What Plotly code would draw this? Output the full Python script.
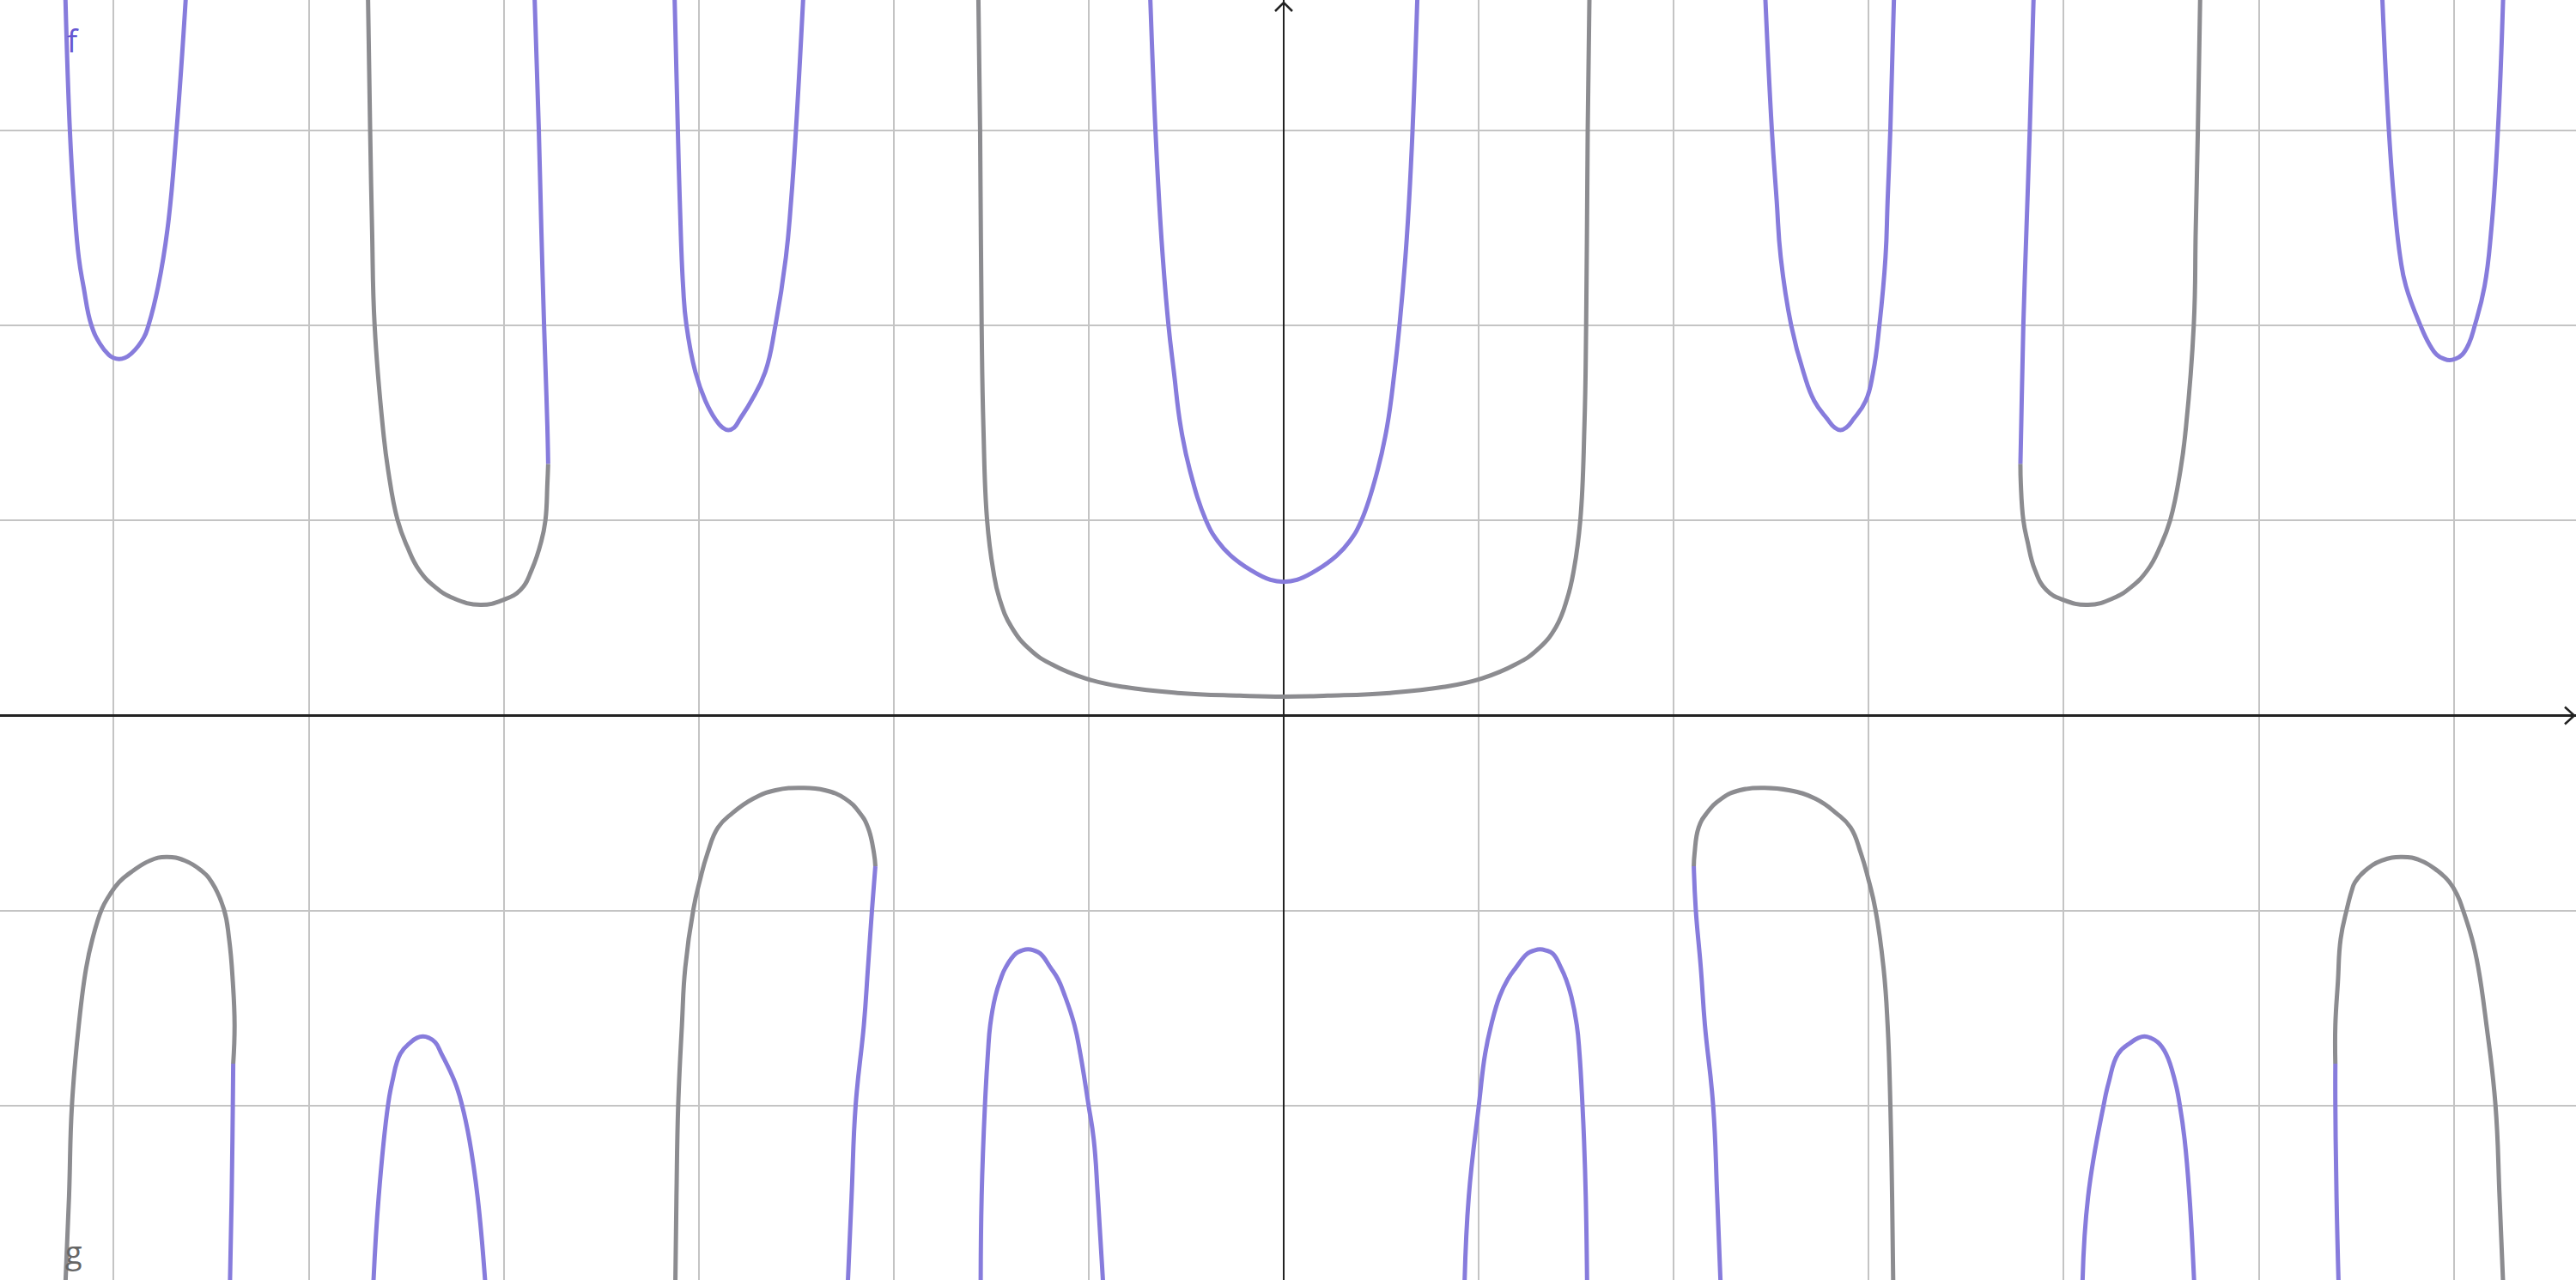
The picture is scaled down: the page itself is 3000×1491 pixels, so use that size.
import plotly.graph_objects as go

# ---------------- data (x, y in grid units) ----------------
# g : gray curve, central branch
g_c_x = [-1.566, -1.557, -1.549, -1.540, -1.521, -1.490, -1.458, -1.396, -1.300, -1.190, -1.015, -0.817, -0.545, -0.226, 0.0,
         0.226, 0.545, 0.817, 1.015, 1.190, 1.300, 1.396, 1.454, 1.488, 1.521, 1.542, 1.551, 1.559, 1.568]
g_c_y = [3.70, 3.008, 2.004, 1.481, 1.002, 0.748, 0.601, 0.454, 0.337, 0.263, 0.190, 0.146, 0.116, 0.102, 0.097,
         0.102, 0.116, 0.146, 0.190, 0.263, 0.337, 0.454, 0.601, 0.748, 1.002, 1.481, 2.004, 3.008, 3.70]
# g : upper-left branch (pole -> minimum -> join with f)
g_ul_x = [-4.696, -4.685, -4.675, -4.662, -4.620, -4.593, -4.544, -4.494, -4.435, -4.351, -4.256, -4.119, -4.003, -3.913,
          -3.856, -3.807, -3.786, -3.776, -3.772]
g_ul_y = [3.70, 3.008, 2.496, 2.004, 1.481, 1.261, 1.002, 0.865, 0.748, 0.659, 0.601, 0.568, 0.593, 0.645,
          0.748, 0.894, 1.002, 1.188, 1.291]
# g : upper-right branch
g_ur_x = [3.778, 3.780, 3.793, 3.814, 3.852, 3.910, 3.999, 4.125, 4.252, 4.346, 4.431, 4.494, 4.546, 4.599,
          4.627, 4.667, 4.677, 4.688, 4.700]
g_ur_y = [1.291, 1.188, 1.002, 0.894, 0.748, 0.645, 0.593, 0.568, 0.601, 0.659, 0.748, 0.865, 1.002, 1.261,
          1.481, 2.004, 2.496, 3.008, 3.70]
# g : lower far-left branch (pole -> maximum -> join with f)
g_lfl_x = [-6.248, -6.229, -6.214, -6.179, -6.141, -6.109, -6.061, -6.025, -5.972, -5.899, -5.814, -5.730, -5.635,
           -5.551, -5.498, -5.435, -5.408, -5.389, -5.380, -5.387]
g_lfl_y = [-2.93, -2.468, -1.997, -1.588, -1.294, -1.147, -0.993, -0.927, -0.854, -0.795, -0.744, -0.725, -0.744,
           -0.795, -0.854, -0.993, -1.147, -1.367, -1.588, -1.786]
# g : lower far-right branch
g_lfr_x = [5.393, 5.393, 5.406, 5.420, 5.452, 5.477, 5.494, 5.547, 5.631, 5.736, 5.831, 5.915, 5.978, 6.021,
           6.046, 6.094, 6.126, 6.168, 6.214, 6.235, 6.254]
g_lfr_y = [-1.786, -1.588, -1.367, -1.147, -0.993, -0.898, -0.854, -0.795, -0.744, -0.725, -0.744, -0.795, -0.854, -0.927,
           -0.993, -1.147, -1.294, -1.588, -1.997, -2.468, -2.93]
# g : lower mid-left branch
g_lml_x = [-3.120, -3.114, -3.105, -3.086, -3.069, -3.027, -2.996, -2.955, -2.901, -2.827, -2.722, -2.606, -2.469,
           -2.353, -2.248, -2.174, -2.132, -2.101, -2.094]
g_lml_y = [-2.93, -2.468, -1.997, -1.588, -1.294, -0.993, -0.854, -0.707, -0.574, -0.500, -0.427, -0.383, -0.371,
           -0.383, -0.427, -0.500, -0.574, -0.707, -0.773]
# g : lower mid-right branch
g_lmr_x = [2.103, 2.107, 2.128, 2.170, 2.244, 2.339, 2.465, 2.591, 2.728, 2.833, 2.907, 2.960, 3.002, 3.034,
           3.076, 3.097, 3.111, 3.120, 3.126]
g_lmr_y = [-0.773, -0.707, -0.574, -0.500, -0.427, -0.383, -0.371, -0.383, -0.427, -0.500, -0.574, -0.707, -0.854, -0.993,
           -1.294, -1.588, -1.997, -2.468, -2.93]

# f : purple curve, central branch
f_c_x = [-0.685, -0.658, -0.639, -0.620, -0.591, -0.563, -0.528, -0.482, -0.399, -0.338, -0.272, -0.172, -0.068, 0.0,
         0.068, 0.172, 0.272, 0.338, 0.399, 0.482, 0.530, 0.568, 0.594, 0.624, 0.643, 0.661, 0.686]
f_c_y = [3.70, 3.008, 2.642, 2.349, 2.004, 1.762, 1.481, 1.261, 1.002, 0.894, 0.821, 0.748, 0.696, 0.686,
         0.696, 0.748, 0.821, 0.894, 1.002, 1.261, 1.481, 1.762, 2.004, 2.349, 2.642, 3.008, 3.70]
# f : upper U left of the y-axis (around x = -2.85)
f_ul_x = [-3.124, -3.107, -3.097, -3.080, -3.063, -3.017, -2.966, -2.916, -2.878, -2.848, -2.818, -2.788, -2.730,
          -2.659, -2.606, -2.553, -2.526, -2.501, -2.463]
f_ul_y = [3.70, 3.008, 2.642, 2.202, 2.004, 1.762, 1.615, 1.522, 1.477, 1.464, 1.477, 1.522, 1.615,
          1.762, 2.004, 2.349, 2.642, 3.008, 3.70]
# f : upper U right of the y-axis (around x = 2.85)
f_ur_x = [2.469, 2.503, 2.528, 2.549, 2.602, 2.665, 2.720, 2.787, 2.825, 2.855, 2.885, 2.923, 2.985, 3.023, 3.055,
          3.086, 3.097, 3.111, 3.130]
f_ur_y = [3.70, 3.008, 2.642, 2.349, 2.004, 1.762, 1.615, 1.522, 1.477, 1.464, 1.477, 1.522, 1.615, 1.762, 2.004,
          2.349, 2.642, 3.008, 3.70]
# f : far-left upper U (around x = -5.97)
f_ufl_x = [-6.248, -6.225, -6.204, -6.179, -6.155, -6.115, -6.071, -6.025, -6.002, -5.972, -5.942, -5.909, -5.846,
           -5.821, -5.772, -5.724, -5.677, -5.629]
f_ufl_y = [3.70, 3.008, 2.642, 2.349, 2.202, 2.004, 1.908, 1.850, 1.835, 1.828, 1.835, 1.857, 1.938,
           2.004, 2.202, 2.496, 3.008, 3.70]
# f : far-right upper U (around x = 5.98)
f_ufr_x = [5.633, 5.667, 5.694, 5.726, 5.755, 5.828, 5.873, 5.914, 5.949, 5.979, 6.009, 6.042, 6.078, 6.109, 6.158,
           6.193, 6.227, 6.254]
f_ufr_y = [3.70, 3.008, 2.642, 2.349, 2.202, 2.004, 1.908, 1.850, 1.830, 1.823, 1.830, 1.850, 1.908, 2.004, 2.202,
           2.496, 3.008, 3.70]
# f : short pieces rising from the upper joins
f_jul_x = [-3.772, -3.776, -3.793, -3.807, -3.820, -3.842]
f_jul_y = [1.291, 1.481, 2.004, 2.496, 3.008, 3.70]
f_jur_x = [3.778, 3.782, 3.793, 3.809, 3.826, 3.846]
f_jur_y = [1.291, 1.481, 2.004, 2.496, 3.008, 3.70]
# f : short pieces falling from the lower joins
f_jlfl_x = [-5.387, -5.389, -5.395, -5.404]
f_jlfl_y = [-1.786, -1.997, -2.468, -2.93]
f_jlfr_x = [5.393, 5.393, 5.399, 5.410]
f_jlfr_y = [-1.786, -1.997, -2.468, -2.93]
f_jlml_x = [-2.094, -2.111, -2.132, -2.153, -2.195, -2.216, -2.236]
f_jlml_y = [-0.773, -0.993, -1.294, -1.588, -1.997, -2.468, -2.93]
f_jlmr_x = [2.103, 2.113, 2.139, 2.160, 2.202, 2.223, 2.241]
f_jlmr_y = [-0.773, -0.993, -1.294, -1.588, -1.997, -2.468, -2.93]
# f : lower humps
f_hfl_x = [-4.669, -4.641, -4.593, -4.572, -4.530, -4.477, -4.444, -4.414, -4.384, -4.351, -4.319, -4.250, -4.214,
           -4.176, -4.134, -4.093]
f_hfl_y = [-2.93, -2.468, -1.997, -1.881, -1.735, -1.676, -1.653, -1.646, -1.653, -1.676, -1.735, -1.881, -1.997,
           -2.175, -2.468, -2.93]
f_hfr_x = [4.096, 4.125, 4.205, 4.231, 4.279, 4.346, 4.384, 4.414, 4.444, 4.483, 4.525, 4.572, 4.595, 4.620, 4.645,
           4.670]
f_hfr_y = [-2.93, -2.468, -1.997, -1.881, -1.735, -1.676, -1.653, -1.646, -1.653, -1.676, -1.735, -1.881, -1.997,
           -2.175, -2.468, -2.93]
f_hml_x = [-1.554, -1.549, -1.532, -1.517, -1.505, -1.479, -1.452, -1.427, -1.374, -1.341, -1.311, -1.281, -1.248,
           -1.195, -1.157, -1.121, -1.073, -1.043, -1.001, -0.974, -0.953, -0.925]
f_hml_y = [-2.93, -2.468, -1.997, -1.735, -1.588, -1.441, -1.353, -1.294, -1.221, -1.205, -1.199, -1.205, -1.221,
           -1.294, -1.353, -1.441, -1.588, -1.735, -1.997, -2.175, -2.468, -2.93]
f_hmr_x = [0.927, 0.949, 1.001, 1.033, 1.064, 1.107, 1.149, 1.190, 1.250, 1.285, 1.315, 1.345, 1.380, 1.422, 1.448,
           1.475, 1.503, 1.517, 1.532, 1.540, 1.549, 1.556]
f_hmr_y = [-2.93, -2.468, -1.997, -1.735, -1.588, -1.441, -1.353, -1.294, -1.221, -1.205, -1.199, -1.205, -1.221,
           -1.294, -1.353, -1.441, -1.588, -1.735, -1.997, -2.175, -2.468, -2.93]

labels = ["f", "g"]

# ---------------- styling ----------------
PURPLE = "#877cdc"
GRAY = "#8c8c90"
W = 3000
H = 1491
UNIT = 227.1          # pixels per grid unit
X0_PX = 1495.0        # pixel column of the y-axis
Y0_PX = 833.5         # pixel row of the x-axis

x_range = [-X0_PX / UNIT, (W - X0_PX) / UNIT]
y_range = [-(H - Y0_PX) / UNIT, Y0_PX / UNIT]

g_branches = [(g_c_x, g_c_y), (g_ul_x, g_ul_y), (g_ur_x, g_ur_y), (g_lfl_x, g_lfl_y),
              (g_lfr_x, g_lfr_y), (g_lml_x, g_lml_y), (g_lmr_x, g_lmr_y)]
f_branches = [(f_c_x, f_c_y), (f_ul_x, f_ul_y), (f_ur_x, f_ur_y), (f_ufl_x, f_ufl_y), (f_ufr_x, f_ufr_y),
              (f_jul_x, f_jul_y), (f_jur_x, f_jur_y), (f_jlfl_x, f_jlfl_y), (f_jlfr_x, f_jlfr_y),
              (f_jlml_x, f_jlml_y), (f_jlmr_x, f_jlmr_y), (f_hfl_x, f_hfl_y), (f_hfr_x, f_hfr_y),
              (f_hml_x, f_hml_y), (f_hmr_x, f_hmr_y)]

fig = go.Figure()
for bx, by in g_branches:
    fig.add_trace(go.Scatter(x=bx, y=by, mode="lines", hoverinfo="skip",
                             line=dict(color=GRAY, width=5, shape="spline", smoothing=1.3)))
for bx, by in f_branches:
    fig.add_trace(go.Scatter(x=bx, y=by, mode="lines", hoverinfo="skip",
                             line=dict(color=PURPLE, width=5, shape="spline", smoothing=1.3)))

axis_common = dict(showgrid=True, gridcolor="#c4c4c4", gridwidth=2, dtick=1, tick0=0,
                   zeroline=True, zerolinecolor="#222222", zerolinewidth=2.5,
                   showticklabels=False, ticks="", showline=False, fixedrange=True)

px = 1.0 / UNIT
shapes = [
    # arrow head at top of y-axis
    dict(type="path", xref="x", yref="y",
         path=f"M {-10*px} {y_range[1]-13*px} L 0 {y_range[1]-3*px} L {10*px} {y_range[1]-13*px}",
         line=dict(color="#222222", width=2.5)),
    # arrow head at right end of x-axis
    dict(type="path", xref="x", yref="y",
         path=f"M {x_range[1]-13*px} {10*px} L {x_range[1]-2*px} 0 L {x_range[1]-13*px} {-10*px}",
         line=dict(color="#222222", width=2.5)),
]

annotations = [
    dict(text=labels[0], x=(76 - X0_PX) / UNIT, y=(Y0_PX - 47) / UNIT, xref="x", yref="y",
         xanchor="left", yanchor="middle", showarrow=False,
         font=dict(family="Open Sans, sans-serif", size=36, color="#6557d2")),
    dict(text=labels[1], x=(74 - X0_PX) / UNIT, y=(Y0_PX - 1458) / UNIT, xref="x", yref="y",
         xanchor="left", yanchor="middle", showarrow=False,
         font=dict(family="Open Sans, sans-serif", size=36, color="#666666")),
]

fig.update_layout(
    width=W, height=H,
    margin=dict(l=0, r=0, t=0, b=0),
    paper_bgcolor="white", plot_bgcolor="white",
    showlegend=False,
    xaxis=dict(range=x_range, **axis_common),
    yaxis=dict(range=y_range, **axis_common),
    shapes=shapes,
    annotations=annotations,
)

fig.write_html("out.html",
               config={"displayModeBar": False, "staticPlot": True},
               post_script="document.body.style.margin='0';document.body.style.overflow='hidden';")
